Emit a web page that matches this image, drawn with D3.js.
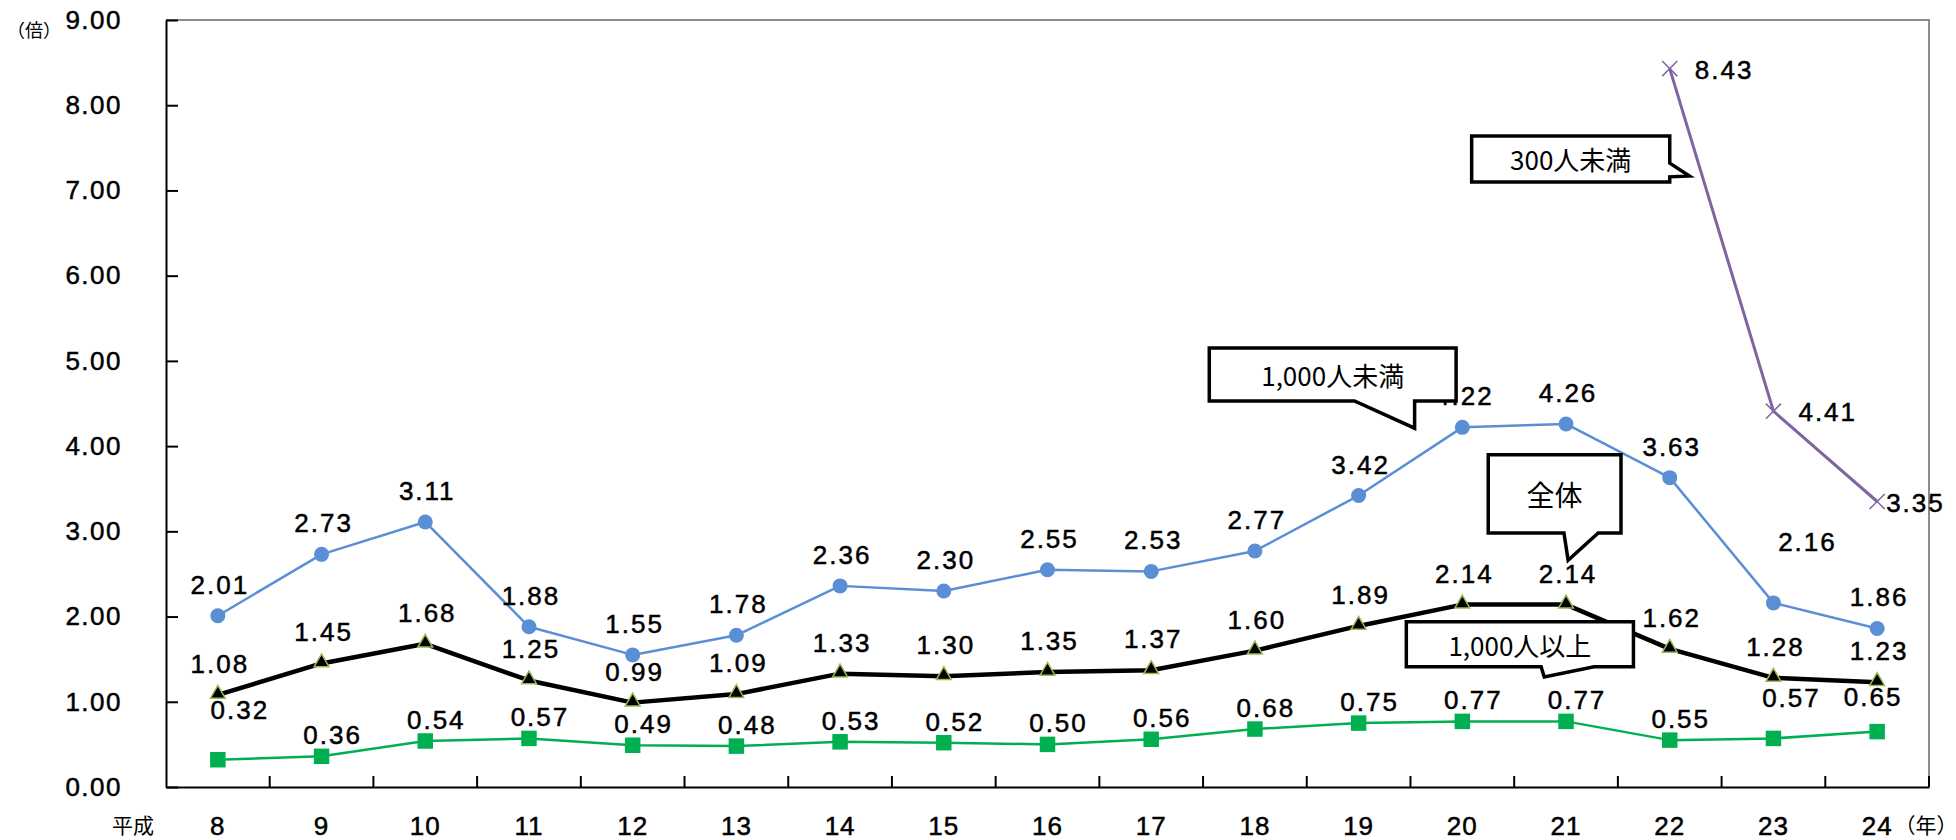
<!DOCTYPE html>
<html>
<head>
<meta charset="utf-8">
<script src="https://cdn.jsdelivr.net/npm/d3@7"></script>
<style>
body { margin: 0; background: #fff; }
</style>
</head>
<body>
<div class="fig"></div>
<script>
// 平成 years
var years = ["8","9","10","11","12","13","14","15","16","17","18","19","20","21","22","23","24"];
var under1000 = [2.01,2.73,3.11,1.88,1.55,1.78,2.36,2.30,2.55,2.53,2.77,3.42,4.22,4.26,3.63,2.16,1.86];
var total     = [1.08,1.45,1.68,1.25,0.99,1.09,1.33,1.30,1.35,1.37,1.60,1.89,2.14,2.14,1.62,1.28,1.23];
var over1000  = [0.32,0.36,0.54,0.57,0.49,0.48,0.53,0.52,0.50,0.56,0.68,0.75,0.77,0.77,0.55,0.57,0.65];
var under300  = [null,null,null,null,null,null,null,null,null,null,null,null,null,null,8.43,4.41,3.35];
var yTicks = [0,1,2,3,4,5,6,7,8,9];

// hand-moved data labels: [index, dx, dy]
var nudgeBlue   = [[15, 32, -30]];
var nudgeGreen  = [[0, 11, -29], [15, 7, -19], [16, -15, -14]];
var nudgePurple = [[16, -16, 0]];

var W = 1956, H = 840;
var pLeft = 166, pRight = 1929, pTop = 20, pBottom = 787;

var svg = d3.select(".fig").append("svg")
    .attr("width", W)
    .attr("height", H)
    .style("font-family", "'Liberation Sans', Arial, sans-serif");

var x = d3.scaleBand().domain(years).range([pLeft, pRight]);
var y = d3.scaleLinear().domain([0, 9]).range([pBottom, pTop]);
// fractional band units, for placing the callouts
var bx = d3.scaleLinear().domain([0, years.length]).range([pLeft, pRight]);

function cx(i) { return x(years[i]) + x.bandwidth() / 2; }

// gray frame on top and right
svg.append("path")
    .attr("d", "M" + pLeft + "," + pTop + "H" + pRight + "V" + pBottom)
    .attr("fill", "none")
    .attr("stroke", "#8c8c8c")
    .attr("stroke-width", 2);

// y axis
var gy = svg.append("g")
    .attr("transform", "translate(" + pLeft + ",0)")
    .call(d3.axisLeft(y).tickValues(yTicks).tickFormat(d3.format(".2f"))
          .tickSize(-12).tickSizeOuter(0).tickPadding(44));
gy.select(".domain").attr("stroke", "#000").attr("stroke-width", 2);
gy.selectAll(".tick line").attr("stroke", "#000").attr("stroke-width", 2);
gy.selectAll(".tick text")
    .style("font-size", "26px")
    .style("letter-spacing", "1.5px")
    .attr("fill", "#000")
    .attr("stroke", "#000")
    .attr("stroke-width", 0.5)
    .attr("font-family", null);

// x axis
var gx = svg.append("g")
    .attr("transform", "translate(0," + pBottom + ")")
    .call(d3.axisBottom(x).tickSize(0).tickSizeOuter(0).tickPadding(30));
gx.select(".domain").attr("stroke", "#000").attr("stroke-width", 2);
gx.selectAll(".tick text")
    .style("font-size", "26px")
    .style("letter-spacing", "1px")
    .attr("fill", "#000")
    .attr("stroke", "#000")
    .attr("stroke-width", 0.5)
    .attr("font-family", null);

// category boundary ticks, pointing up
svg.append("g").selectAll("line")
    .data(years)
    .enter().append("line")
    .attr("x1", function(d) { return x(d) + x.bandwidth(); })
    .attr("x2", function(d) { return x(d) + x.bandwidth(); })
    .attr("y1", pBottom)
    .attr("y2", pBottom - 11)
    .attr("stroke", "#000")
    .attr("stroke-width", 2);

// unit labels
svg.append("text")
    .attr("x", 34).attr("y", 37)
    .attr("text-anchor", "middle")
    .style("font-family", "'Noto Sans CJK JP', sans-serif")
    .style("font-size", "18px")
    .text("（倍）");
svg.append("text")
    .attr("x", 133).attr("y", 824)
    .attr("text-anchor", "middle")
    .attr("dominant-baseline", "central")
    .style("font-family", "'Noto Sans CJK JP', sans-serif")
    .style("font-size", "21px")
    .text("平成");
svg.append("text")
    .attr("x", 1926).attr("y", 824)
    .attr("text-anchor", "middle")
    .attr("dominant-baseline", "central")
    .style("font-family", "'Noto Sans CJK JP', sans-serif")
    .style("font-size", "21px")
    .text("（年）");

var line = d3.line()
    .defined(function(d) { return d != null; })
    .x(function(d, i) { return cx(i); })
    .y(function(d) { return y(d); });

function drawLine(vals, color, width) {
  svg.append("path")
      .datum(vals)
      .attr("d", line)
      .attr("fill", "none")
      .attr("stroke", color)
      .attr("stroke-width", width)
      .attr("stroke-linejoin", "round");
}

function pts(vals) {
  return vals.map(function(v, i) { return { v: v, i: i }; })
             .filter(function(d) { return d.v != null; });
}

drawLine(under1000, "#5a8fd6", 2.5);
drawLine(total, "#000", 4.5);
drawLine(over1000, "#00b050", 2.5);
drawLine(under300, "#8064a2", 3);

// markers
svg.append("g").selectAll("circle")
    .data(pts(under1000))
    .enter().append("circle")
    .attr("cx", function(d) { return cx(d.i); })
    .attr("cy", function(d) { return y(d.v); })
    .attr("r", 7.5)
    .attr("fill", "#5a8fd6");

svg.append("g").selectAll("path")
    .data(pts(total))
    .enter().append("path")
    .attr("transform", function(d) { return "translate(" + cx(d.i) + "," + (y(d.v) - 1) + ")"; })
    .attr("d", d3.symbol(d3.symbolTriangle, 95))
    .attr("fill", "#000")
    .attr("stroke", "#9bbb59")
    .attr("stroke-width", 1.5);

svg.append("g").selectAll("path")
    .data(pts(over1000))
    .enter().append("path")
    .attr("transform", function(d) { return "translate(" + cx(d.i) + "," + y(d.v) + ")"; })
    .attr("d", d3.symbol(d3.symbolSquare, 240))
    .attr("fill", "#00b050");

svg.append("g").selectAll("path")
    .data(pts(under300))
    .enter().append("path")
    .attr("transform", function(d) { return "translate(" + cx(d.i) + "," + y(d.v) + ")"; })
    .attr("d", d3.symbol(d3.symbolTimes, 150))
    .attr("fill", "none")
    .attr("stroke", "#8064a2")
    .attr("stroke-width", 1.5);

// value labels
function labels(vals, dx, dy, anchor, nudges) {
  var nmap = {};
  nudges.forEach(function(n) { nmap[n[0]] = n; });
  svg.append("g").selectAll("text")
      .data(pts(vals))
      .enter().append("text")
      .attr("x", function(d) { return cx(d.i) + dx + (nmap[d.i] ? nmap[d.i][1] : 0); })
      .attr("y", function(d) { return y(d.v) + dy + (nmap[d.i] ? nmap[d.i][2] : 0); })
      .attr("text-anchor", anchor)
      .attr("dominant-baseline", "central")
      .attr("stroke", "#000")
      .attr("stroke-width", 0.5)
      .style("font-size", "26px")
      .style("letter-spacing", "2px")
      .text(function(d) { return d3.format(".2f")(d.v); });
}
labels(under1000, 2, -31, "middle", nudgeBlue);
labels(total, 2, -31, "middle", []);
labels(over1000, 11, -21, "middle", nudgeGreen);
labels(under300, 25, 1, "start", nudgePurple);

// callouts
function callout(d, tx, ty, txt, fs) {
  var g = svg.append("g");
  g.append("path")
      .attr("d", d)
      .attr("fill", "#fff")
      .attr("stroke", "#000")
      .attr("stroke-width", 3.5)
      .attr("stroke-linejoin", "miter");
  g.append("text")
      .attr("x", tx).attr("y", ty)
      .attr("text-anchor", "middle")
      .attr("dominant-baseline", "central")
      .style("font-family", "'Noto Sans CJK JP', sans-serif")
      .style("font-size", fs + "px")
      .text(txt);
}

var c1 = [bx(10.06), y(5.15), bx(12.44), y(4.53)];
callout("M" + c1[0] + "," + c1[1] + "H" + c1[2] + "V" + c1[3] +
        "H" + bx(12.04) + "L" + bx(12.04) + "," + y(4.21) + "L" + bx(11.46) + "," + c1[3] +
        "H" + c1[0] + "Z", (c1[0] + c1[2]) / 2, (c1[1] + c1[3]) / 2, "1,000人未満", 26);

var c2 = [bx(12.75), y(3.90), bx(14.03), y(2.98)];
callout("M" + c2[0] + "," + c2[1] + "H" + c2[2] + "V" + c2[3] +
        "H" + bx(13.81) + "L" + bx(13.52) + "," + y(2.66) + "L" + bx(13.48) + "," + c2[3] +
        "H" + c2[0] + "Z", (c2[0] + c2[2]) / 2, (c2[1] + c2[3]) / 2, "全体", 28);

var c3 = [bx(11.96), y(1.94), bx(14.15), y(1.41)];
callout("M" + c3[0] + "," + c3[1] + "H" + c3[2] + "V" + c3[3] +
        "H" + bx(13.77) + "L" + bx(13.29) + "," + y(1.29) + "L" + bx(13.26) + "," + c3[3] +
        "H" + c3[0] + "Z", (c3[0] + c3[2]) / 2, (c3[1] + c3[3]) / 2, "1,000人以上", 26);

var c4 = [bx(12.59), y(7.64), bx(14.50), y(7.10)];
callout("M" + c4[0] + "," + c4[1] + "H" + c4[2] + "V" + y(7.32) +
        "L" + bx(14.69) + "," + y(7.17) + "L" + c4[2] + "," + y(7.16) + "V" + c4[3] +
        "H" + c4[0] + "Z", (c4[0] + c4[2]) / 2, (c4[1] + c4[3]) / 2, "300人未満", 26);
</script>
</body>
</html>
